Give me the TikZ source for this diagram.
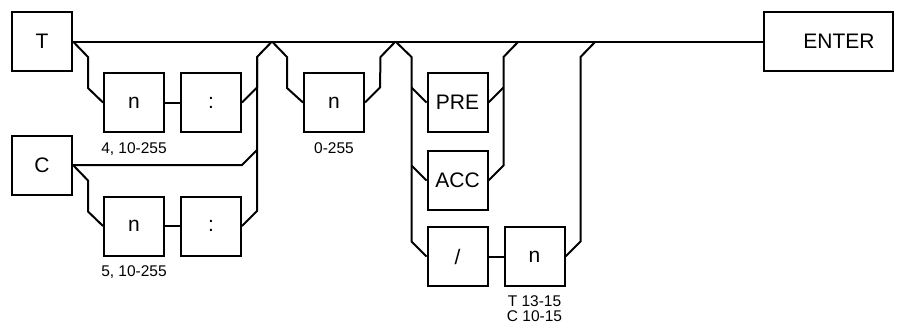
\documentclass[tikz,border=0pt]{standalone}
\usepackage{fontspec}
\setmainfont{Liberation Sans}
\usetikzlibrary{positioning,calc}
\tikzset{
  box/.style={draw,line width=2pt,minimum width=60pt,minimum height=59pt,inner sep=0pt,font=\fontsize{21}{24}\selectfont},
  rangelbl/.style={inner sep=0pt,font=\fontsize{15.5}{15}\selectfont,align=center},
  rail/.style={line width=2pt},
}

\begin{document}
\begin{tikzpicture}[x=1pt,y=-1pt,node distance=15pt]
    \useasboundingbox (0,0) rectangle (899,327);
    \node[box] (T) at (42,41.5) {T};
    \node[box] (C) at (42,165) {C};
    \node[box] (n1) at (134,102.5) {n};
    \node[box,right=of n1] (colon1) {:};
    \node[box] (n2) at (134,226) {n};
    \node[box,right=of n2] (colon2) {:};
    \node[box] (n3) at (334,102.5) {n};
    \node[box] (pre) at (457.5,102.5) {PRE};
    \node[box,below=17pt of pre] (acc) {ACC};
    \node[box,below=of acc] (slash) {/};
    \node[box,right=of slash] (n4) {n};
    \node[box,minimum width=129pt,text width=92pt,align=right] (enter) at (828.5,41.5) {ENTER};
    \node[rangelbl,below=9pt of n1] (r1) {4, 10-255};
    \node[rangelbl,below=9pt of n2] (r2) {5, 10-255};
    \node[rangelbl,below=9pt of n3] (r3) {0-255};
    \node[rangelbl,below=8pt of n4] (r4) {T 13-15\\C 10-15};
    \coordinate (j1) at (272,41.5);
    \coordinate (j2) at (395.5,41.5);
    \coordinate (j3) at (518.5,41.5);
    \coordinate (j4) at (595.5,41.5);
    % main line
    \draw[rail] (T.east) -- (enter.west);
    % T and C prefixes
    \draw[rail] (T.east) -- ++(15,15.5) -- ++(0,31) -- (n1.west);
    \draw[rail] (n1) -- (colon1);
    \draw[rail] (colon1.east) -- ++(15,-15) -- ($(j1)+(-15,15.5)$) -- (j1);
    \draw[rail] (colon2.east) -- ++(15,-15) -- ($(j1)+(-15,15.5)$);
    \draw[rail] (C.east) -- (colon2.east |- C.east) -- ++(15,-15);
    \draw[rail] (C.east) -- ++(15,15.5) -- ++(0,31) -- (n2.west);
    \draw[rail] (n2) -- (colon2);
    % number
    \draw[rail] (j1) -- ++(15,15.5) -- ++(0,31) -- (n3.west);
    \draw[rail] (n3.east) -- ++(15,-15) -- ($(j2)+(-15,15.5)$) -- (j2);
    % PRE / ACC / slash
    \draw[rail] (j2) -- ++(16,15.5) -- ($(slash.west)+(-15,-15)$) -- (slash.west);
    \draw[rail] (pre.west) -- ++(-15,-15);
    \draw[rail] (acc.west) -- ++(-15,-15);
    \draw[rail] (acc.east) -- ++(15,-15) -- ($(j3)+(-15,15.5)$) -- (j3);
    \draw[rail] (pre.east) -- ++(15,-15);
    \draw[rail] (slash) -- (n4);
    \draw[rail] (n4.east) -- ++(15,-15) -- ($(j4)+(-15,15.5)$) -- (j4);
\end{tikzpicture}
\end{document}
